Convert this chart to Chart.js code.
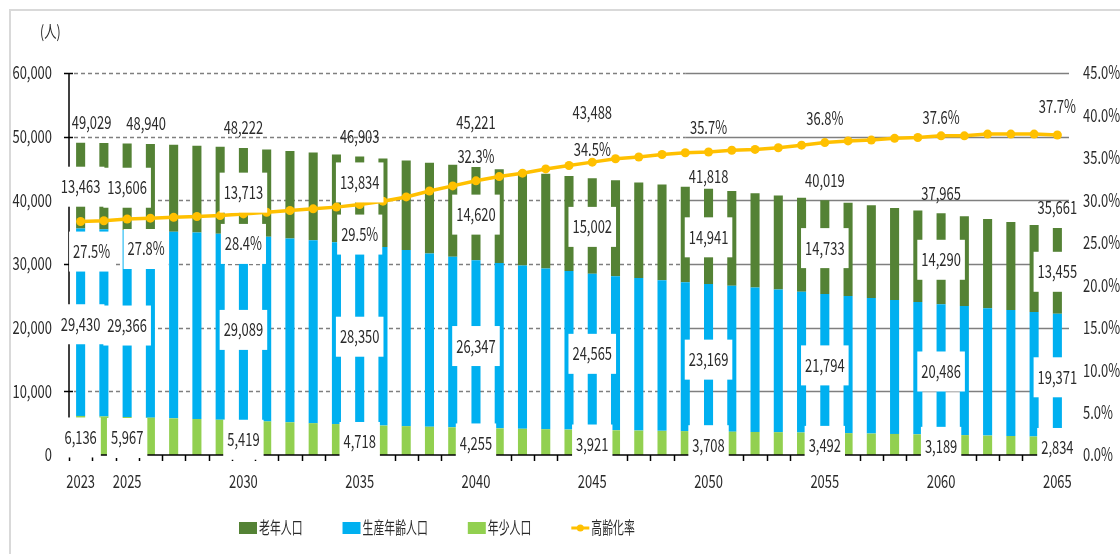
<!DOCTYPE html>
<html><head><meta charset="utf-8">
<script src="https://cdn.jsdelivr.net/npm/chart.js@4.4.0/dist/chart.umd.min.js"></script>
<style>html,body{margin:0;padding:0;background:#fff;overflow:hidden}canvas{display:block}</style>
</head><body><canvas id="c" width="1120" height="554"></canvas>
<script>
const years = [2023,2024,2025,2026,2027,2028,2029,2030,2031,2032,2033,2034,2035,2036,2037,2038,2039,2040,2041,2042,2043,2044,2045,2046,2047,2048,2049,2050,2051,2052,2053,2054,2055,2056,2057,2058,2059,2060,2061,2062,2063,2064,2065];
const labelYears = [2023,2025,2030,2035,2040,2045,2050,2055,2060,2065];
const elderly = [13463,13524,13606,13626,13642,13651,13652,13713,13728,13755,13775,13785,13834,13927,14060,14278,14446,14620,14721,14784,14892,14949,15002,15059,15030,15038,15005,14941,14884,14800,14752,14742,14733,14659,14547,14472,14358,14290,14104,14005,13831,13657,13455];
const working = [29430,29416,29366,29344,29318,29279,29218,29089,28992,28865,28725,28565,28350,28033,27660,27192,26774,26347,25969,25626,25248,24901,24565,24211,23950,23652,23395,23169,22911,22690,22418,22113,21794,21531,21293,21018,20782,20486,20286,19995,19779,19563,19371];
const young = [6136,6060,5967,5870,5760,5650,5540,5419,5280,5140,5000,4860,4718,4620,4530,4440,4350,4255,4190,4120,4050,3990,3921,3880,3840,3790,3750,3708,3665,3620,3580,3535,3492,3430,3370,3310,3250,3189,3120,3050,2980,2910,2834];
const totals = [49029,49000,48940,48840,48720,48580,48410,48222,48000,47760,47500,47210,46903,46580,46250,45910,45570,45221,44880,44530,44190,43840,43488,43150,42820,42480,42150,41818,41460,41110,40750,40390,40019,39620,39210,38800,38390,37965,37510,37050,36590,36130,35661];
const agingRate = [27.5,27.6,27.8,27.9,28.0,28.1,28.2,28.4,28.6,28.8,29.0,29.2,29.5,29.9,30.4,31.1,31.7,32.3,32.8,33.2,33.7,34.1,34.5,34.9,35.1,35.4,35.6,35.7,35.9,36.0,36.2,36.5,36.8,37.0,37.1,37.3,37.4,37.6,37.6,37.8,37.8,37.8,37.7];
const seriesNames = ['老年人口','生産年齢人口','年少人口','高齢化率'];
const unitLabel = '(人)';

const COLORS = {elderly:'#548235', working:'#00B0F0', young:'#92D050', rate:'#FFC000'};
const FONT = '"Noto Sans CJK JP","Noto Sans",sans-serif';
const TXT = '#2b2b2b';

function txt(ctx, s, x, y, o) {
  o = o || {};
  const size = o.size || 18, sx = o.sx || 0.72, align = o.align || 'center';
  ctx.save();
  ctx.font = size + 'px ' + FONT;
  const w = ctx.measureText(s).width * sx;
  const left = align === 'center' ? x - w / 2 : (align === 'right' ? x - w : x);
  if (o.box) { ctx.fillStyle = '#fff'; ctx.fillRect(left - 4, y - 20, w + 8, 40); }
  ctx.translate(left, y + size * 0.36);
  ctx.scale(sx, 1);
  ctx.textAlign = 'left'; ctx.textBaseline = 'alphabetic';
  ctx.fillStyle = o.color || TXT;
  ctx.fillText(s, 0, 0);
  ctx.restore();
  return w;
}
const fmt = v => v.toLocaleString('en-US');

// label layout tweaks (pixels)
const topShiftX = {2023: 11, 2025: 19};
const totalDy = {2040: -45, 2045: -66, 2050: -12};
const rateDy = {2045: -13, 2060: -18, 2065: -28};
const elderlyDy = {2035: -19};

const decor = {
  id: 'decor',
  beforeDraw(chart) {
    const ctx = chart.ctx;
    ctx.save();
    ctx.fillStyle = '#fff'; ctx.fillRect(0, 0, chart.width, chart.height);
    ctx.strokeStyle = '#d9d9d9'; ctx.lineWidth = 2;
    ctx.beginPath(); ctx.moveTo(10, chart.height); ctx.lineTo(10, 10); ctx.lineTo(chart.width, 10); ctx.stroke();
    ctx.restore();
  },
  beforeDatasetsDraw(chart) {
    const ctx = chart.ctx, ys = chart.scales.y, xs = chart.scales.x, ca = chart.chartArea;
    const split = xs.getPixelForValue(26);
    ctx.save();
    ctx.strokeStyle = '#7f7f7f'; ctx.lineWidth = 1.5;
    ys.ticks.forEach(t => {
      if (t.value === 0) return;
      const py = Math.round(ys.getPixelForValue(t.value)) + 0.5;
      ctx.setLineDash([4, 3]);
      ctx.beginPath(); ctx.moveTo(ca.left + 5, py); ctx.lineTo(split, py); ctx.stroke();
      ctx.setLineDash([]);
      ctx.beginPath(); ctx.moveTo(split, py); ctx.lineTo(ca.right, py); ctx.stroke();
    });
    ctx.restore();
  },
  afterDatasetsDraw(chart) {
    const ctx = chart.ctx, ys = chart.scales.y, xs = chart.scales.x, ca = chart.chartArea;
    ctx.save();
    ctx.strokeStyle = '#000'; ctx.lineWidth = 1.5;
    ctx.beginPath(); ctx.moveTo(ca.left, ca.top); ctx.lineTo(ca.left, ca.bottom); ctx.stroke();
    ys.ticks.forEach(t => {
      const py = Math.round(ys.getPixelForValue(t.value)) + 0.5;
      ctx.beginPath(); ctx.moveTo(ca.left - 5, py); ctx.lineTo(ca.left + 4, py); ctx.stroke();
    });
    ctx.beginPath(); ctx.moveTo(ca.left, ca.bottom); ctx.lineTo(ca.right, ca.bottom); ctx.stroke();
    const half = (xs.getPixelForValue(1) - xs.getPixelForValue(0)) / 2;
    for (let i = 0; i <= years.length; i++) {
      const px = Math.round(xs.getPixelForValue(i) - half) + 0.5;
      ctx.beginPath(); ctx.moveTo(px, ca.bottom); ctx.lineTo(px, ca.bottom + 6); ctx.stroke();
    }
    ctx.restore();

    const mY = chart.getDatasetMeta(0).data, mW = chart.getDatasetMeta(1).data, mE = chart.getDatasetMeta(2).data, mR = chart.getDatasetMeta(3).data;
    labelYears.forEach(yr => {
      const i = years.indexOf(yr);
      const ey = mE[i], wk = mW[i], yg = mY[i], rp = mR[i];
      const sx = topShiftX[yr] || 0;
      txt(ctx, fmt(young[i]), yg.x, (yg.y + yg.base) / 2 + 2, {box: true});
      txt(ctx, fmt(working[i]), wk.x, (wk.y + wk.base) / 2 + 2, {box: true});
      txt(ctx, fmt(elderly[i]), ey.x, (ey.y + ey.base) / 2 + 1 + (elderlyDy[yr] || 0), {box: true});
      txt(ctx, fmt(totals[i]), ey.x + sx, ey.y + (totalDy[yr] !== undefined ? totalDy[yr] : -20));
      const below = yr <= 2035;
      const rdy = rateDy[yr] !== undefined ? rateDy[yr] : (below ? 30 : -24);
      txt(ctx, agingRate[i].toFixed(1) + '%', rp.x + sx, rp.y + rdy, {box: below});
    });
  },
  afterDraw(chart) {
    const ctx = chart.ctx, ys = chart.scales.y, y1 = chart.scales.y1, xs = chart.scales.x;
    ys.ticks.forEach(t => txt(ctx, fmt(t.value), 52, ys.getPixelForValue(t.value), {align: 'right'}));
    y1.ticks.forEach(t => txt(ctx, t.value.toFixed(1) + '%', 1083, y1.getPixelForValue(t.value), {align: 'left'}));
    labelYears.forEach(yr => txt(ctx, String(yr), xs.getPixelForValue(years.indexOf(yr)), 482));
    txt(ctx, unitLabel, 40, 32, {align: 'left', size: 17});
    const order = [2, 1, 0, 3];
    let lx = 239; const ly = 528;
    order.forEach(di => {
      const ds = chart.data.datasets[di];
      ctx.save();
      if (ds.type === 'line') {
        ctx.strokeStyle = ds.borderColor; ctx.lineWidth = 3;
        ctx.beginPath(); ctx.moveTo(lx, ly); ctx.lineTo(lx + 18, ly); ctx.stroke();
        ctx.fillStyle = ds.borderColor; ctx.beginPath(); ctx.arc(lx + 9, ly, 3.5, 0, Math.PI * 2); ctx.fill();
      } else {
        ctx.fillStyle = ds.backgroundColor; ctx.fillRect(lx, ly - 6, 18, 12);
      }
      ctx.restore();
      const w = txt(ctx, ds.label, lx + 20, ly, {align: 'left', size: 17, sx: 0.64});
      lx += 20 + w + 40;
    });
  }
};

new Chart(document.getElementById('c'), {
  data: {
    labels: years.map(String),
    datasets: [
      {type: 'bar', label: seriesNames[2], data: young, backgroundColor: COLORS.young, yAxisID: 'y', order: 1, stack: 'p'},
      {type: 'bar', label: seriesNames[1], data: working, backgroundColor: COLORS.working, yAxisID: 'y', order: 1, stack: 'p'},
      {type: 'bar', label: seriesNames[0], data: elderly, backgroundColor: COLORS.elderly, yAxisID: 'y', order: 1, stack: 'p'},
      {type: 'line', label: seriesNames[3], data: agingRate, borderColor: COLORS.rate, backgroundColor: COLORS.rate, borderWidth: 3.5,
       pointRadius: 4.5, pointBackgroundColor: COLORS.rate, pointBorderColor: COLORS.rate, pointBorderWidth: 0, tension: 0, yAxisID: 'y1', order: 0}
    ]
  },
  options: {
    responsive: false, animation: false,
    layout: {padding: {top: 73, left: 0, right: 0, bottom: 0}},
    datasets: {bar: {barPercentage: 0.39, categoryPercentage: 1.0}},
    plugins: {legend: {display: false}, tooltip: {enabled: false}},
    scales: {
      x: {stacked: true, offset: true, grid: {display: false}, border: {display: false}, ticks: {display: false},
          afterFit: s => { s.height = 99; }},
      y: {stacked: true, min: 0, max: 60000, ticks: {display: false, stepSize: 10000}, grid: {display: false}, border: {display: false},
          afterFit: s => { s.width = 69; }},
      y1: {position: 'right', min: 0, max: 45, ticks: {display: false, stepSize: 5}, grid: {display: false}, border: {display: false},
          afterFit: s => { s.width = 51; }}
    }
  },
  plugins: [decor]
});
</script></body></html>
